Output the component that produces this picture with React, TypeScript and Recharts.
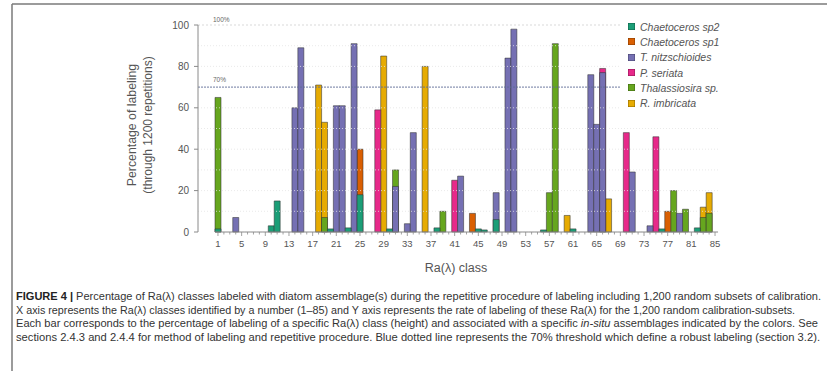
import React from 'react';
import { BarChart, Bar, XAxis, YAxis, ReferenceLine, Legend } from 'recharts';

// ---- Data (class -> % of labeling) ----
const CLASS_COUNT_LABELS = [
  '1','2','3','4','5','6','7','8','9','10','11','12','13','14','15','16','17','18','19','20',
  '21','22','23','24','25','26','27','28','29','30','31','32','33','34','35','36','37','38','39','40',
  '41','42','43','44','45','46','47','48','49','50','51','52','53','54','55','56','57','58','59','60',
  '61','62','63','64','65','66','67','68','69','70','71','72','73','74','75','76','77','78','79','80',
  '81','82','83','84','85',
];
const tickLabels = ['1','5','9','13','17','21','25','29','33','37','41','45','49','53','57','61','65','69','73','77','81','85'];
const yTicks = [0, 20, 40, 60, 80, 100];
const gridValues = [10, 20, 30, 40, 50, 60, 80, 90];

const chaetocerosSp2: [number, number][] = [
  [1, 1.5], [10, 3], [11, 15], [20, 1.5], [23, 2], [25, 18], [30, 1.5], [38, 2], [45, 1.5], [46, 1],
  [48, 6], [56, 1], [61, 1.5], [76, 1.5], [82, 2],
];
const chaetocerosSp1: [number, number][] = [[25, 40], [44, 9], [77, 10]];
const tNitzschioides: [number, number][] = [
  [4, 7], [14, 60], [15, 89], [21, 61], [22, 61], [24, 91], [31, 22], [33, 4], [34, 48], [42, 27],
  [48, 19], [50, 84], [51, 98], [64, 76], [65, 52], [66, 77], [71, 29], [74, 3], [79, 9],
];
const pSeriata: [number, number][] = [[28, 59], [41, 25], [66, 79], [70, 48], [75, 46]];
const thalassiosira: [number, number][] = [
  [1, 65], [19, 7], [31, 30], [39, 10], [57, 19], [58, 91], [78, 20], [80, 11], [83, 7], [84, 9],
];
const rImbricata: [number, number][] = [[18, 71], [19, 53], [29, 85], [36, 80], [60, 8], [67, 16], [83, 12], [84, 19]];

const SERIES = [
  { key: 'sp2', name: 'Chaetoceros sp2', color: '#1B9E77', values: chaetocerosSp2 },
  { key: 'sp1', name: 'Chaetoceros sp1', color: '#D95F02', values: chaetocerosSp1 },
  { key: 'tn', name: 'T. nitzschioides', color: '#7570B3', values: tNitzschioides },
  { key: 'ps', name: 'P. seriata', color: '#E7298A', values: pSeriata },
  { key: 'th', name: 'Thalassiosira sp.', color: '#66A61E', values: thalassiosira },
  { key: 'ri', name: 'R. imbricata', color: '#E6AB02', values: rImbricata },
];
// drawing order (back to front)
const DRAW_ORDER = ['ri', 'ps', 'th', 'sp1', 'tn', 'sp2'];

const data = CLASS_COUNT_LABELS.map((cls) => {
  const row: Record<string, any> = { cls };
  SERIES.forEach((s) => {
    const hit = s.values.find(([c]) => String(c) === cls);
    row[s.key] = hit ? hit[1] : null;
  });
  return row;
});

const FONT = '"Liberation Sans", Arial, Helvetica, sans-serif';

const ClassTick = (props: any) => {
  const { x, y, payload } = props;
  const labeled = tickLabels.includes(String(payload.value));
  return (
    <g>
      <line x1={x - 3} x2={x + 3} y1={y} y2={y} stroke="#8a8a8a" strokeWidth={1} />
      <line x1={x} x2={x} y1={y} y2={y + (labeled ? 4 : 2.5)} stroke="#8a8a8a" strokeWidth={0.8} />
      {labeled && (
        <text x={x} y={y + 15} textAnchor="middle" fontSize={9.5} fill="#555" fontFamily={FONT}>
          {payload.value}
        </text>
      )}
    </g>
  );
};

const LegendContent = () => (
  <div style={{ background: '#fff', paddingLeft: 7, paddingRight: 4, fontFamily: FONT, fontSize: 10.5, color: '#555' }}>
    {SERIES.map((s) => (
      <div key={s.key} style={{ display: 'flex', alignItems: 'center', height: 15.3 }}>
        <span style={{ display: 'inline-block', width: 7, height: 7, background: s.color, marginRight: 5, boxShadow: 'inset 0 0 0 0.5px rgba(0,0,0,0.4)' }} />
        <span style={{ fontStyle: 'italic', whiteSpace: 'nowrap' }}>{s.name}</span>
      </div>
    ))}
  </div>
);

const refLabel = (text: string, dy: number) => (p: any) => {
  const vb = p.viewBox || {};
  return (
    <text x={(vb.x || 0) + 15} y={(vb.y || 0) - dy} fontSize={6.5} fill="#666" fontFamily={FONT}>
      {text}
    </text>
  );
};

const captionLines = [
  { y: 300, end: 821 },
  { y: 313.5, end: 795 },
  { y: 327, end: 818 },
  { y: 340.5, end: 820 },
];

export default function App() {
  const seriesByKey: Record<string, any> = {};
  SERIES.forEach((s) => (seriesByKey[s.key] = s));
  return (
    <div style={{ position: 'absolute', left: 0, top: 0, width: 827, height: 371, background: '#fff', overflow: 'hidden' }}>
      <div style={{ position: 'absolute', left: 0, top: 0 }}>
        <BarChart
          width={827}
          height={262}
          data={data}
          margin={{ top: 25, right: 109, left: 0, bottom: 0 }}
          barCategoryGap={0}
        >
          <YAxis
            width={198}
            domain={[0, 100]}
            ticks={yTicks}
            interval={0}
            tickSize={4}
            tickMargin={5}
            axisLine={{ stroke: '#8a8a8a' }}
            tickLine={{ stroke: '#8a8a8a' }}
            tick={{ fontSize: 10, fill: '#555', fontFamily: FONT }}
          />
          {DRAW_ORDER.map((k, i) => (
            <XAxis
              key={'ax' + k}
              xAxisId={i}
              dataKey="cls"
              type="category"
              hide={i !== 0}
              padding={{ left: 17, right: 0 }}
              height={30}
              interval={0}
              tickSize={0}
              tickMargin={0}
              axisLine={false}
              tickLine={false}
              tick={i === 0 ? <ClassTick /> : false}
            />
          ))}
          {gridValues.map((v) => (
            <ReferenceLine key={'g' + v} y={v} stroke="#e4e4e4" strokeDasharray="1 2" strokeWidth={0.8} />
          ))}
          <ReferenceLine y={100} stroke="#cfcfcf" strokeDasharray="2 2" strokeWidth={0.8} label={refLabel('100%', 3)} />
          {DRAW_ORDER.map((k, i) => (
            <Bar
              key={k}
              xAxisId={i}
              dataKey={k}
              name={seriesByKey[k].name}
              fill={seriesByKey[k].color}
              stroke="#333"
              strokeOpacity={0.6}
              strokeWidth={0.9}
              isAnimationActive={false}
            />
          ))}
          <ReferenceLine y={70} stroke="#5d6c95" strokeDasharray="2 1" strokeWidth={0.9} label={refLabel('70%', 5)} />
          <Legend
            layout="horizontal"
            verticalAlign="middle"
            align="center"
            content={<LegendContent />}
            wrapperStyle={{ left: 621, top: 19, width: 'auto', height: 'auto' }}
          />
        </BarChart>
      </div>
      <svg width={827} height={371} style={{ position: 'absolute', left: 0, top: 0, pointerEvents: 'none' }}>
        <line x1={12} y1={4} x2={827} y2={4} stroke="#7a7a7a" strokeWidth={1.5} />
        <line x1={12} y1={4} x2={12} y2={371} stroke="#7a7a7a" strokeWidth={1.5} />
        <text transform="translate(133,125) rotate(-90)" textAnchor="middle" dominantBaseline="middle" fontSize={12.3} fill="#555" fontFamily={FONT}>
          Percentage of labeling
        </text>
        <text transform="translate(148.5,125) rotate(-90)" textAnchor="middle" dominantBaseline="middle" fontSize={12} fill="#555" fontFamily={FONT}>
          (through 1200 repetitions)
        </text>
        <text x={456} y={272} textAnchor="middle" fontSize={12.5} fill="#555" fontFamily={FONT}>
          Ra(λ) class
        </text>
        <text x={16} y={captionLines[0].y} fontSize={10.5} fill="#333" fontFamily={FONT} textLength={captionLines[0].end - 16} lengthAdjust="spacingAndGlyphs">
          <tspan fontWeight="bold" fill="#222">FIGURE 4 |</tspan> Percentage of Ra(λ) classes labeled with diatom assemblage(s) during the repetitive procedure of labeling including 1,200 random subsets of calibration.
        </text>
        <text x={16} y={captionLines[1].y} fontSize={10.5} fill="#333" fontFamily={FONT} textLength={captionLines[1].end - 16} lengthAdjust="spacingAndGlyphs">
          X axis represents the Ra(λ) classes identified by a number (1–85) and Y axis represents the rate of labeling of these Ra(λ) for the 1,200 random calibration-subsets.
        </text>
        <text x={16} y={captionLines[2].y} fontSize={10.5} fill="#333" fontFamily={FONT} textLength={captionLines[2].end - 16} lengthAdjust="spacingAndGlyphs">
          Each bar corresponds to the percentage of labeling of a specific Ra(λ) class (height) and associated with a specific <tspan fontStyle="italic">in-situ</tspan> assemblages indicated by the colors.  See
        </text>
        <text x={16} y={captionLines[3].y} fontSize={10.5} fill="#333" fontFamily={FONT} textLength={captionLines[3].end - 16} lengthAdjust="spacingAndGlyphs">
          sections 2.4.3 and 2.4.4 for method of labeling and repetitive procedure. Blue dotted line represents the 70% threshold which define a robust labeling (section 3.2).
        </text>
      </svg>
    </div>
  );
}
